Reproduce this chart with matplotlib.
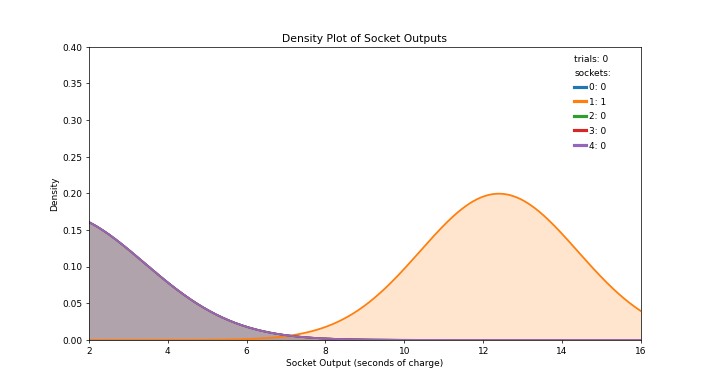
import matplotlib
matplotlib.use("Agg")
import matplotlib.pyplot as plt
import numpy as np

# socket results
trials = 0
socket_ids = [0, 1, 2, 3, 4]
socket_counts = [0, 1, 0, 0, 0]
socket_means = [1.1, 12.4, 1.1, 1.1, 1.1]
socket_sds = [2.3, 2.0, 2.3, 2.3, 2.3]
colors = ['tab:blue', 'tab:orange', 'tab:green', 'tab:red', 'tab:purple']

x = np.linspace(2, 16, 600)


def normal_pdf(v, mu, sd):
    return np.exp(-0.5 * ((v - mu) / sd) ** 2) / (sd * np.sqrt(2 * np.pi))


fig = plt.figure(figsize=(11, 6), dpi=712 / 11)
ax = fig.add_axes([0.125, 0.1237, 0.775, 0.7552])

curves = [normal_pdf(x, m, s) for m, s in zip(socket_means, socket_sds)]

for c, col in zip(curves, colors):
    ax.fill_between(x, 0, c, color=col, alpha=0.2, linewidth=0)

handles = []
for i, c, col, n in zip(socket_ids, curves, colors, socket_counts):
    ax.plot(x, c, color=col, lw=2)
    h, = ax.plot([], [], color=col, lw=3.5, label='%d: %d' % (i, n))
    handles.append(h)

ax.set_xlim(2, 16)
ax.set_ylim(0, 0.4)
ax.set_yticks(np.arange(0, 0.41, 0.05))
ax.yaxis.set_major_formatter(matplotlib.ticker.FormatStrFormatter('%.2f'))
ax.set_xlabel('Socket Output (seconds of charge)')
ax.set_ylabel('Density')
ax.set_title('Density Plot of Socket Outputs')

leg = ax.legend(handles=handles, title='trials: %d\nsockets:' % trials, alignment='left',
                frameon=False, loc='upper right', bbox_to_anchor=(0.961, 1.0),
                handlelength=1.3, handletextpad=0.3, labelspacing=0.62)
leg.get_title().set_linespacing(1.65)

plt.savefig('out.png', dpi=712 / 11)
